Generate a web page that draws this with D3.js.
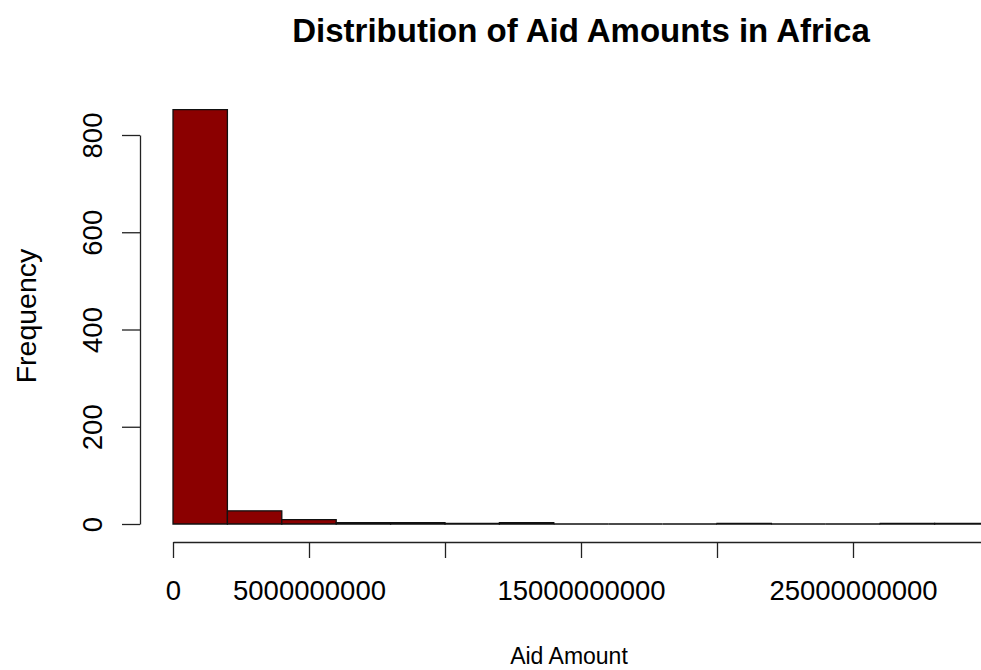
<!DOCTYPE html>
<html>
<head>
<meta charset="utf-8">
<script src="https://cdn.jsdelivr.net/npm/d3@7"></script>
<style>
  html, body { margin: 0; padding: 0; background: #fff; }
  svg { display: block; }
  text { font-family: "Liberation Sans", Arial, Helvetica, sans-serif; fill: #000; }
</style>
</head>
<body>
<svg id="chart" width="981" height="670"></svg>
<script>
// Histogram bins (lower / upper bounds, in currency units) and counts
const binStarts = [0, 2e9, 4e9, 6e9, 8e9, 1e10, 1.2e10, 1.4e10, 1.6e10, 1.8e10, 2e10, 2.2e10, 2.4e10, 2.6e10, 2.8e10];
const binEnds   = [2e9, 4e9, 6e9, 8e9, 1e10, 1.2e10, 1.4e10, 1.6e10, 1.8e10, 2e10, 2.2e10, 2.4e10, 2.6e10, 2.8e10, 3e10];
const counts    = [852, 27, 9, 3, 3, 1, 3, 0, 0, 0, 1, 0, 0, 1, 1];

// Axis ticks and their labels (blank labels are skipped where they would collide)
const xTickValues = [0, 5e9, 1e10, 1.5e10, 2e10, 2.5e10, 3e10];
const xTickLabels = ["0", "5000000000", "", "15000000000", "", "25000000000", ""];
const yTickValues = [0, 200, 400, 600, 800];
const yTickLabels = ["0", "200", "400", "600", "800"];

const titleText = "Distribution of Aid Amounts in Africa";
const xTitle = "Aid Amount";
const yTitle = "Frequency";

const svg = d3.select("#chart");

const x = d3.scaleLinear().domain([0, 3e10]).range([173, 989]);
const y = d3.scaleLinear().domain([0, 800]).range([524, 135]);

const bins = binStarts.map((s, i) => ({ x0: s, x1: binEnds[i], n: counts[i] }));

// Bars drawn as closed outlines so empty bins still show as a line on the baseline
svg.append("g")
  .selectAll("path")
  .data(bins)
  .join("path")
  .attr("d", d => {
    const p = d3.path();
    p.moveTo(x(d.x0), y(0));
    p.lineTo(x(d.x0), y(d.n));
    p.lineTo(x(d.x1), y(d.n));
    p.lineTo(x(d.x1), y(0));
    p.closePath();
    return p.toString();
  })
  .attr("fill", "#8b0000")
  .attr("stroke", "#111")
  .attr("stroke-width", 1.3);

// X axis
const xAxis = d3.axisBottom(x)
  .tickValues(xTickValues)
  .tickFormat((d, i) => xTickLabels[i])
  .tickSize(16)
  .tickSizeOuter(0)
  .tickPadding(22);
const gx = svg.append("g").attr("transform", "translate(0,542)").call(xAxis);
gx.select(".domain").attr("stroke", "#222").attr("stroke-width", 1.3);
gx.selectAll(".tick line").attr("stroke", "#222").attr("stroke-width", 1.3);
gx.selectAll(".tick text").attr("font-size", 27.5).attr("fill", "#000");

// Y axis
const yAxis = d3.axisLeft(y)
  .tickValues(yTickValues)
  .tickFormat((d, i) => yTickLabels[i])
  .tickSize(18)
  .tickSizeOuter(0)
  .tickPadding(10);
const gy = svg.append("g").attr("transform", "translate(140,0)").call(yAxis);
gy.select(".domain").attr("stroke", "#222").attr("stroke-width", 1.3);
gy.selectAll(".tick line").attr("stroke", "#222").attr("stroke-width", 1.3);
gy.selectAll(".tick text")
  .attr("font-size", 27.5)
  .attr("fill", "#000")
  .attr("text-anchor", "middle")
  .attr("dy", null)
  .attr("x", null)
  .attr("transform", "translate(-38,0) rotate(-90)")
  .attr("y", 0);

// Titles
svg.append("text")
  .attr("x", 581).attr("y", 42)
  .attr("text-anchor", "middle")
  .attr("font-size", 33).attr("font-weight", "bold")
  .text(titleText);

svg.append("text")
  .attr("x", 569).attr("y", 664)
  .attr("text-anchor", "middle")
  .attr("font-size", 23)
  .text(xTitle);

svg.append("text")
  .attr("transform", "translate(36,316) rotate(-90)")
  .attr("text-anchor", "middle")
  .attr("font-size", 28.5)
  .text(yTitle);
</script>
</body>
</html>
